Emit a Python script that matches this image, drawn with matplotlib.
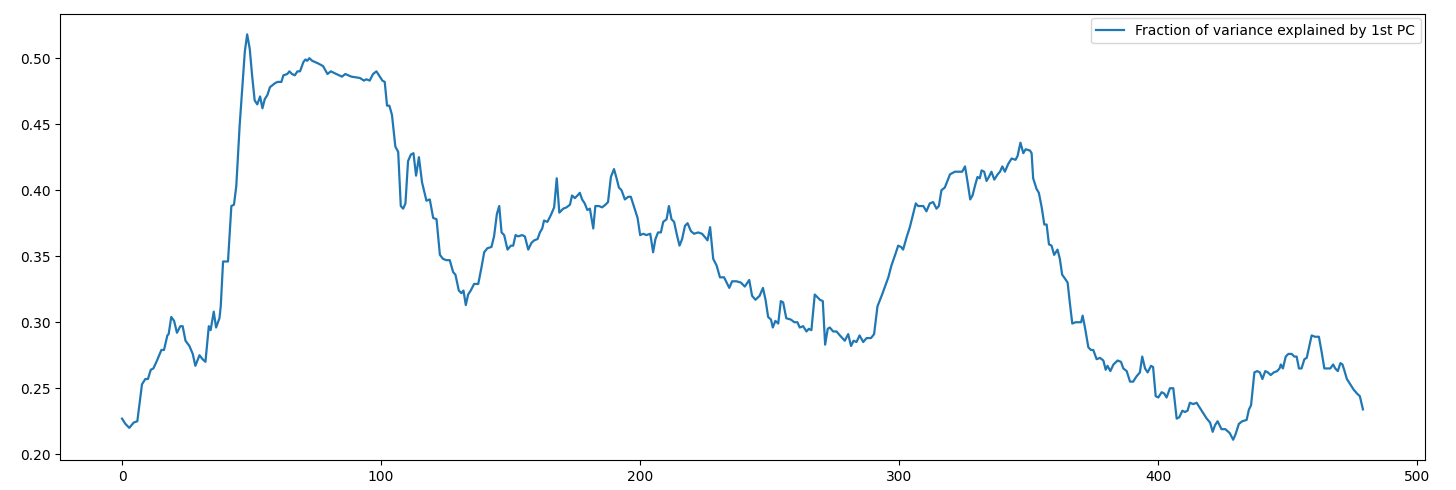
import matplotlib
matplotlib.use("Agg")
import matplotlib.pyplot as plt

# points (window index, fraction of variance)
window_idx = [
    0, 1.3, 2.8, 4.5, 5.9, 7.7, 9.0, 10, 11.1, 12.1, 13.5, 15.2, 16.2, 17.5, 18, 19.0,
    20.1, 21.2, 22.5, 23.4, 24.5, 26, 27.3, 28.3, 29.9, 31.1, 32.2, 33.5, 34.2, 35.4,
    36.3, 37.6, 38.1, 39.0, 40.9, 42.2, 43.2, 44.1, 45.4, 47.4, 48.3, 49.3, 50.2, 51.2,
    52.2, 53.3, 54.2, 55.1, 56.1, 57.1, 59.0, 60.0, 61.5, 62.3, 63.8, 64.6, 65.6, 66.7,
    67.7, 68.7, 70.0, 70.8, 71.5, 72.3, 73.4, 75.7, 77.6, 79.3, 80.6, 82.7, 84.9, 86.2,
    88.5, 91.8, 93.4, 94.3, 95.6, 96.9, 98.2, 99.5, 100.5, 101.4, 102.3, 103.2, 104.2,
    105.5, 106.6, 107.6, 108.5, 109.4, 110.4, 111.5, 112.5, 113.5, 114.6, 115.8, 117.5,
    118.8, 120.1, 121.4, 122.7, 123.9, 125.2, 126.5, 127.8, 128.7, 130.0, 131.0, 131.8,
    132.7, 133.6, 134.6, 135.9, 137.5, 138.7, 139.8, 141.0, 142.6, 143.6, 144.7, 145.6,
    146.5, 147.5, 148.8, 150.1, 151.0, 151.9, 152.9, 154.4, 155.5, 156.8, 158.0, 159.1,
    160.4, 161.3, 162.2, 162.9, 164.2, 165.5, 166.8, 167.8, 168.8, 170.3, 171.6, 172.9,
    173.7, 174.8, 175.8, 176.7, 177.6, 178.6, 179.6, 180.6, 181.9, 182.7, 184.1, 185.3,
    186.6, 187.6, 188.7, 189.9, 190.9, 191.8, 192.8, 194.1, 195.4, 196.4, 197.7, 199.0,
    200.0, 201.2, 202.4, 203.9, 205.0, 205.9, 206.9, 208.0, 208.9, 210.2, 211.1, 212.1,
    213.1, 214.2, 215.2, 216.2, 217.3, 218.3, 219.6, 220.8, 222.4, 223.9, 225.2, 226.0,
    227.0, 228.2, 229.5, 230.8, 232.4, 234.4, 235.5, 237.2, 238.9, 240.4, 242.1, 243.2,
    244.5, 246.1, 247.4, 248.4, 249.4, 250.5, 251.2, 252.2, 253.3, 254.3, 255.2, 256.4,
    258.2, 259.5, 260.7, 261.6, 262.9, 264.2, 265.1, 266.1, 267.4, 269.4, 270.5, 271.4,
    272.4, 273.2, 274.5, 275.8, 277.1, 279.0, 280.3, 281.4, 282.4, 283.5, 284.7, 286.1,
    287.4, 289.1, 290.3, 291.6, 293.4, 294.5, 295.8, 297.0, 298.6, 299.6, 300.7, 301.5,
    302.8, 304.1, 305.4, 306.4, 307.3, 309.3, 310.5, 311.8, 313.1, 314.4, 315.3, 316.3,
    317.6, 319.6, 321.5, 322.8, 324.3, 325.4, 326.4, 327.4, 328.3, 329.2, 330.2, 331.1,
    331.8, 332.8, 333.7, 334.6, 335.6, 336.7, 338.0, 338.9, 339.8, 340.8, 342.1, 343.4,
    344.9, 345.7, 346.8, 347.9, 348.8, 350.5, 351.1, 351.7, 353.0, 353.9, 355.0, 356.0,
    356.9, 357.8, 358.8, 359.8, 361.1, 362.0, 362.9, 364.0, 365.0, 365.9, 366.8, 368.1,
    369.1, 370.2, 370.8, 371.7, 373.0, 374.0, 374.9, 376.2, 377.5, 378.8, 379.7, 380.4,
    381.5, 382.7, 384.3, 385.6, 386.5, 387.8, 389.1, 390.3, 391.6, 392.9, 393.8, 394.9,
    395.9, 397.2, 398.0, 399.0, 400.0, 401.3, 402.3, 403.2, 404.5, 405.8, 407.1, 408.1,
    409.3, 410.3, 411.3, 412.2, 413.5, 414.8, 416.1, 417.4, 418.7, 420.0, 421.0, 421.9,
    422.9, 424.4, 425.9, 427.6, 428.9, 429.8, 431.1, 432.4, 434.1, 435.0, 435.8, 437.1,
    438.2, 439.2, 440.2, 441.3, 442.3, 443.4, 444.6, 445.9, 446.8, 447.3, 448.1, 449.2,
    450.2, 451.5, 452.5, 453.4, 454.3, 455.3, 456.4, 457.3, 458.2, 459.2, 460.5, 462.0,
    463.1, 464.1, 465.4, 466.4, 467.5, 468.3, 469.3, 470.3, 471.1, 471.9, 472.8, 474.1,
    475.4, 476.7, 477.8, 478.4, 479,
]
var_frac = [
    0.227, 0.223, 0.220, 0.224, 0.225, 0.253, 0.257, 0.257, 0.264, 0.265, 0.271, 0.279, 0.279, 0.290, 0.291, 0.304,
    0.301, 0.292, 0.297, 0.297, 0.286, 0.282, 0.276, 0.267, 0.275, 0.272, 0.270, 0.297, 0.294, 0.308,
    0.296, 0.303, 0.312, 0.346, 0.346, 0.388, 0.389, 0.403, 0.449, 0.505, 0.518, 0.507, 0.487, 0.468,
    0.465, 0.471, 0.462, 0.469, 0.472, 0.478, 0.481, 0.482, 0.482, 0.487, 0.488, 0.490, 0.488, 0.487,
    0.490, 0.490, 0.497, 0.499, 0.498, 0.500, 0.498, 0.496, 0.494, 0.488, 0.490, 0.488, 0.486, 0.488,
    0.486, 0.485, 0.483, 0.484, 0.483, 0.488, 0.490, 0.486, 0.483, 0.482, 0.464, 0.464, 0.457,
    0.433, 0.429, 0.388, 0.386, 0.390, 0.422, 0.427, 0.428, 0.411, 0.425, 0.406, 0.392,
    0.393, 0.379, 0.378, 0.351, 0.348, 0.347, 0.347, 0.338, 0.336, 0.324, 0.322, 0.324,
    0.313, 0.321, 0.324, 0.329, 0.329, 0.341, 0.353, 0.356, 0.357, 0.365, 0.382, 0.388,
    0.368, 0.366, 0.355, 0.358, 0.358, 0.366, 0.365, 0.366, 0.365, 0.355, 0.360, 0.362,
    0.363, 0.368, 0.371, 0.377, 0.376, 0.381, 0.387, 0.409, 0.383, 0.386, 0.387, 0.389,
    0.396, 0.394, 0.396, 0.398, 0.393, 0.390, 0.385, 0.386, 0.371, 0.388, 0.388, 0.387,
    0.389, 0.391, 0.410, 0.416, 0.409, 0.402, 0.400, 0.393, 0.395, 0.395, 0.387, 0.379,
    0.366, 0.367, 0.366, 0.367, 0.353, 0.363, 0.368, 0.368, 0.376, 0.378, 0.388, 0.378,
    0.376, 0.366, 0.358, 0.363, 0.373, 0.375, 0.369, 0.367, 0.368, 0.367, 0.364, 0.362,
    0.372, 0.348, 0.343, 0.334, 0.334, 0.326, 0.331, 0.331, 0.330, 0.327, 0.332, 0.320,
    0.317, 0.320, 0.326, 0.317, 0.304, 0.302, 0.296, 0.301, 0.299, 0.316, 0.315, 0.303,
    0.302, 0.300, 0.300, 0.296, 0.297, 0.293, 0.295, 0.294, 0.321, 0.317, 0.316, 0.283,
    0.295, 0.296, 0.293, 0.293, 0.290, 0.286, 0.291, 0.282, 0.286, 0.285, 0.290, 0.285,
    0.288, 0.288, 0.291, 0.312, 0.321, 0.327, 0.334, 0.343, 0.352, 0.358, 0.357, 0.355,
    0.364, 0.372, 0.382, 0.390, 0.388, 0.388, 0.384, 0.390, 0.391, 0.386, 0.388, 0.400,
    0.402, 0.412, 0.414, 0.414, 0.414, 0.418, 0.406, 0.393, 0.396, 0.403, 0.410, 0.409,
    0.415, 0.414, 0.407, 0.410, 0.414, 0.408, 0.412, 0.414, 0.418, 0.414, 0.420, 0.424,
    0.423, 0.426, 0.436, 0.428, 0.431, 0.430, 0.428, 0.409, 0.401, 0.398, 0.387, 0.374,
    0.374, 0.359, 0.358, 0.351, 0.355, 0.348, 0.336, 0.333, 0.330, 0.314, 0.299, 0.300,
    0.300, 0.300, 0.305, 0.296, 0.281, 0.279, 0.279, 0.272, 0.273, 0.271, 0.264, 0.267,
    0.263, 0.268, 0.271, 0.270, 0.265, 0.263, 0.255, 0.255, 0.259, 0.262, 0.274, 0.265,
    0.262, 0.267, 0.266, 0.244, 0.243, 0.247, 0.246, 0.243, 0.250, 0.250, 0.227, 0.228,
    0.233, 0.232, 0.233, 0.239, 0.238, 0.239, 0.235, 0.231, 0.227, 0.224, 0.217, 0.222,
    0.225, 0.219, 0.219, 0.216, 0.211, 0.215, 0.223, 0.225, 0.226, 0.234, 0.237, 0.262,
    0.263, 0.262, 0.257, 0.263, 0.262, 0.260, 0.262, 0.263, 0.265, 0.268, 0.265, 0.274,
    0.276, 0.276, 0.274, 0.274, 0.265, 0.265, 0.272, 0.273, 0.281, 0.290, 0.289, 0.289,
    0.277, 0.265, 0.265, 0.265, 0.268, 0.265, 0.263, 0.269, 0.268, 0.263, 0.257, 0.253,
    0.249, 0.246, 0.244, 0.239, 0.234,
]

fig = plt.figure(figsize=(14.56, 4.9), dpi=100)
ax = fig.add_axes([0.0412, 0.0612, 0.9375, 0.910])
ax.plot(window_idx, var_frac, lw=1.6, label='Fraction of variance explained by 1st PC')
ax.legend(loc='upper right', borderaxespad=0.3)
fig.savefig('out.png', dpi=100)
